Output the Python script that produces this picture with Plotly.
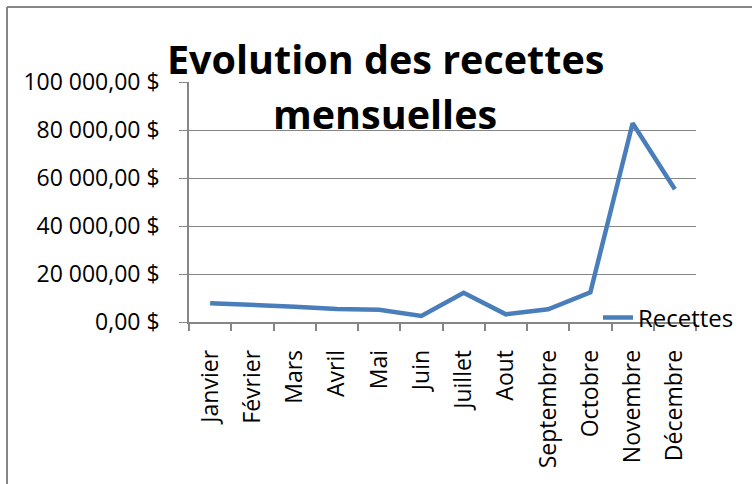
import plotly.graph_objects as go

months = ["Janvier", "Février", "Mars", "Avril", "Mai", "Juin", "Juillet",
          "Aout", "Septembre", "Octobre", "Novembre", "Décembre"]
recettes = [7800, 7200, 6400, 5400, 5100, 2500, 12200, 3200, 5300, 12400, 82800, 55300]
y_ticks = [0, 20000, 40000, 60000, 80000, 100000]
y_tick_labels = ["0,00 $", "20 000,00 $", "40 000,00 $", "60 000,00 $", "80 000,00 $", "100 000,00 $"]
title_lines = ["Evolution des recettes", "mensuelles"]

FONT = "Open Sans"
W, H = 752, 484
L, T = 189, 82
R = W - 696
B = H - 322
pw, ph = W - L - R, H - T - B


def px(x):
    return (x - L) / pw


def py(y):
    return (H - B - y) / ph


fig = go.Figure()
fig.add_trace(go.Scatter(x=months, y=recettes, mode="lines", name="Recettes",
                         line=dict(color="#4A7EBB", width=4.5)))

fig.update_layout(
    width=W, height=H,
    margin=dict(l=L, r=R, t=T, b=B, pad=0, autoexpand=False),
    paper_bgcolor="white", plot_bgcolor="white",
    font=dict(family=FONT, size=23, color="black"),
    showlegend=True,
    legend=dict(x=px(598), y=py(318), xanchor="left", yanchor="middle",
                bgcolor="rgba(0,0,0,0)", font=dict(size=24), itemwidth=30,
                borderwidth=0, xref="paper", yref="paper"),
    xaxis=dict(type="category", range=[-0.5, 11.5], tickangle=-90, ticks="outside", ticklen=7,
               tickcolor="#868686", tickwidth=1.5, tickson="boundaries", showline=True,
               linecolor="#868686", linewidth=1.5, showgrid=False, automargin=False,
               ticklabelstandoff=17, tickfont=dict(size=23)),
    yaxis=dict(range=[0, 100000], tickvals=y_ticks, ticktext=y_tick_labels,
               ticks="outside", ticklen=8, tickcolor="#868686", tickwidth=1.3,
               showline=True, linecolor="#868686", linewidth=1.5, automargin=False,
               showgrid=True, gridcolor="#868686", gridwidth=1.3,
               zeroline=False, ticklabelstandoff=15, tickfont=dict(size=23)),
)

fig.add_annotation(text="<b>" + title_lines[0] + "</b>", x=px(385), y=py(59),
                   xref="paper", yref="paper", xanchor="center", yanchor="middle",
                   showarrow=False, font=dict(size=39.5, family=FONT))
fig.add_annotation(text="<b>" + title_lines[1] + "</b>", x=px(385), y=py(114),
                   xref="paper", yref="paper", xanchor="center", yanchor="middle",
                   showarrow=False, font=dict(size=39.5, family=FONT))

# chart border (top and left edges)
fig.add_shape(type="line", xref="paper", yref="paper",
              x0=px(7), x1=px(770), y0=py(7), y1=py(7),
              line=dict(color="#868686", width=2))
fig.add_shape(type="line", xref="paper", yref="paper",
              x0=px(7), x1=px(7), y0=py(7), y1=py(500),
              line=dict(color="#868686", width=2))

fig.write_html("out.html", config={"displayModeBar": False},
               post_script="document.body.style.margin='0';")
